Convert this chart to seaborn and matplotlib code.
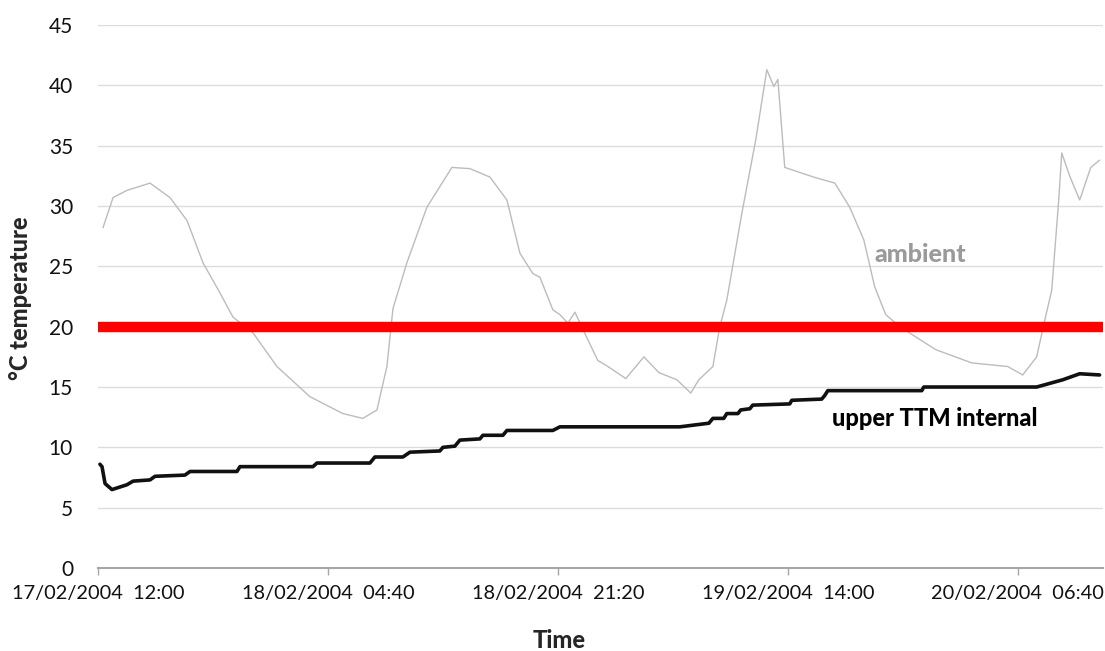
import pandas as pd
import matplotlib
matplotlib.use("Agg")
import matplotlib.pyplot as plt
import matplotlib.dates as mdates
import seaborn as sns

start = pd.Timestamp("2004-02-17 12:00")

# hours since start, ambient temperature (°C)
ambient_hours = [0.36, 1.09, 2.10, 3.77, 5.22, 6.45, 7.61, 8.84, 9.78, 11.23, 12.97,
                 15.36, 17.75, 19.20, 20.22, 20.94, 21.38, 22.39, 23.84, 25.65, 26.96,
                 28.41, 29.64, 30.58, 31.52, 32.03, 32.97, 33.48, 34.06, 34.57, 35.43,
                 36.23, 36.96, 38.26, 39.57, 40.65, 41.96, 42.97, 43.55, 44.57, 45.07,
                 45.58, 46.67, 47.68, 48.48, 48.99, 49.28, 49.78, 51.88, 53.41, 54.49,
                 55.51, 56.30, 57.10, 58.12, 60.72, 63.33, 65.94, 67.03, 68.04, 68.62,
                 69.13, 69.64, 69.86, 70.43, 71.16, 71.96, 72.60]
ambient_temp = [28.2, 30.7, 31.3, 31.9, 30.7, 28.8, 25.3, 22.8, 20.8, 19.5, 16.7,
                14.2, 12.8, 12.4, 13.1, 16.7, 21.5, 25.3, 29.9, 33.2, 33.1,
                32.4, 30.5, 26.1, 24.4, 24.1, 21.4, 21.0, 20.3, 21.2, 19.1,
                17.2, 16.7, 15.7, 17.5, 16.2, 15.6, 14.5, 15.6, 16.7, 20.0,
                22.2, 29.4, 35.5, 41.3, 39.9, 40.5, 33.2, 32.4, 31.9, 29.9,
                27.2, 23.3, 21.0, 20.0, 18.1, 17.0, 16.7, 16.0, 17.5, 20.5,
                23.0, 30.5, 34.4, 32.5, 30.5, 33.2, 33.8]

# hours since start, upper TTM internal temperature (°C)
internal_hours = [0.14, 0.29, 0.51, 1.01, 2.10, 2.54, 3.77, 4.13, 6.30, 6.67, 10.07,
                  10.29, 15.58, 15.87, 19.71, 20.07, 22.10, 22.61, 24.78, 25.00, 25.87,
                  26.23, 27.68, 27.90, 29.35, 29.64, 32.97, 33.48, 42.17, 44.28, 44.57,
                  45.36, 45.58, 46.38, 46.59, 47.25, 47.46, 50.14, 50.29, 52.46, 52.68,
                  52.90, 59.71, 59.86, 68.04, 69.93, 71.16, 72.60]
internal_temp = [8.6, 8.4, 7.0, 6.5, 6.9, 7.2, 7.3, 7.6, 7.7, 8.0, 8.0,
                 8.4, 8.4, 8.7, 8.7, 9.2, 9.2, 9.6, 9.7, 10.0, 10.1,
                 10.6, 10.7, 11.0, 11.0, 11.4, 11.4, 11.7, 11.7, 12.0, 12.4,
                 12.4, 12.8, 12.8, 13.1, 13.2, 13.5, 13.6, 13.9, 14.0, 14.3,
                 14.7, 14.7, 15.0, 15.0, 15.6, 16.1, 16.0]

threshold = 20
tick_minutes = [0, 1000, 2000, 3000, 4000]
y_ticks = [0, 5, 10, 15, 20, 25, 30, 35, 40, 45]

ambient = pd.DataFrame({"time": start + pd.to_timedelta(ambient_hours, unit="h"),
                        "temp": ambient_temp})
internal = pd.DataFrame({"time": start + pd.to_timedelta(internal_hours, unit="h"),
                         "temp": internal_temp})

sns.set_theme(style="white")
plt.rcParams["font.family"] = ["Lato", "DejaVu Sans"]

fig = plt.figure(figsize=(11.05, 6.51), dpi=100)
ax = fig.add_axes([0.0887, 0.1275, 0.9093, 0.834])

ax.set_ylim(0, 45)
ax.set_yticks(y_ticks)
ax.grid(axis="y", color="#dcdcdc", linewidth=1)
ax.set_axisbelow(True)

sns.lineplot(data=ambient, x="time", y="temp", ax=ax, color="#bcbcbc", linewidth=1)
ax.axhline(threshold, color="#ff0000", linewidth=7.5, zorder=3)
sns.lineplot(data=internal, x="time", y="temp", ax=ax, color="#111111", linewidth=2.6,
             zorder=4)

ax.set_xlim(start, start + pd.Timedelta(minutes=4370))
ax.set_xticks([start + pd.Timedelta(minutes=m) for m in tick_minutes])
ax.xaxis.set_major_formatter(mdates.DateFormatter("%d/%m/%Y  %H:%M"))

for s in ["top", "right", "left"]:
    ax.spines[s].set_visible(False)
ax.spines["bottom"].set_color("#a6a6a6")
ax.spines["bottom"].set_linewidth(1.5)

ax.tick_params(axis="y", length=0, pad=18, labelsize=15, labelcolor="#111111")
ax.tick_params(axis="x", length=5, width=1, color="#a6a6a6", pad=7, labelsize=14.4,
               labelcolor="#111111", bottom=True)

ax.set_xlabel("")
ax.set_ylabel("")
fig.text(559 / 1105, 1 - 640 / 651, "Time", fontsize=17, fontweight="black",
         ha="center", va="center")
fig.text(20 / 1105, 1 - 298 / 651, "°C temperature", fontsize=17, fontweight="black",
         rotation=90, ha="center", va="center")

ax.text(start + pd.Timedelta(hours=56.3), 26.0, "ambient", color="#9a9a9a",
        fontsize=18, fontweight="black", va="center")
ax.text(start + pd.Timedelta(hours=53.2), 12.4, "upper TTM internal", color="#000000",
        fontsize=17, fontweight="black", va="center")

fig.savefig("out.png", dpi=100)
